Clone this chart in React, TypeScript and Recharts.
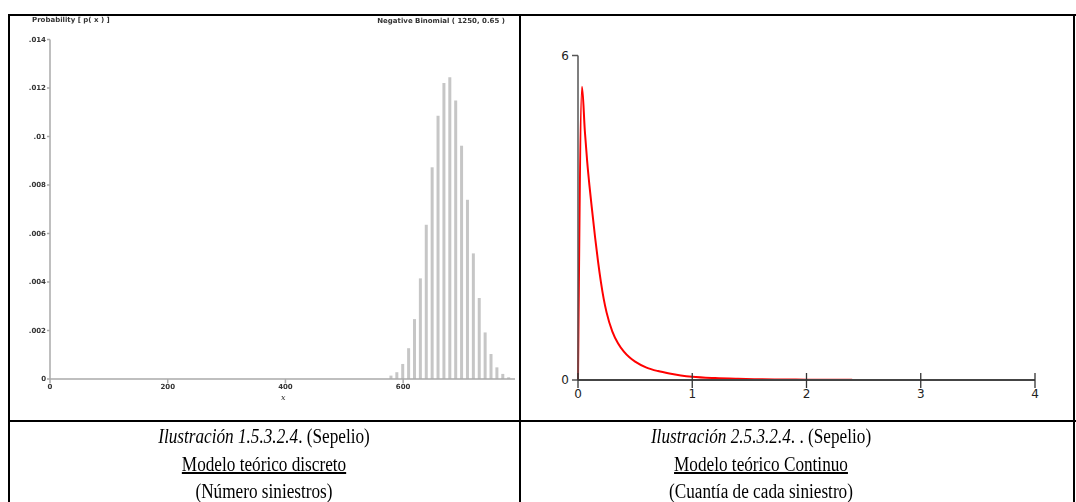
import React from 'react';
import { BarChart, Bar, XAxis, YAxis, LineChart, Line } from 'recharts';

// Discrete model: number of claims (negative binomial probabilities)
const claimCounts = [580, 590, 600, 610, 620, 630, 640, 650, 660, 670, 680, 690, 700, 710, 720, 730, 740, 750, 760, 770, 780];
const claimProbs = [0.00014, 0.00028, 0.00062, 0.00127, 0.00247, 0.00415, 0.00636, 0.00873, 0.01086, 0.01221, 0.01244, 0.01148, 0.00962, 0.00739, 0.00518, 0.00334, 0.00192, 0.00103, 0.00048, 0.00021, 0.00007];
const countTicks = [0, 200, 400, 600];
const probTicks = [0, 0.002, 0.004, 0.006, 0.008, 0.01, 0.012, 0.014];
const probTickLabels = ['0', '.002', '.004', '.006', '.008', '.01', '.012', '.014'];

// Continuous model: amount of each claim (density)
const amounts = [0, 0.035, 0.06, 0.08, 0.1, 0.12, 0.15, 0.175, 0.2, 0.225, 0.25, 0.3, 0.35, 0.4, 0.45, 0.5, 0.6, 0.7, 0.8, 0.9, 1.0, 1.2, 1.4, 1.6, 1.8, 2.0, 2.2, 2.4];
const densities = [0, 5.42, 4.6, 4.05, 3.6, 3.2, 2.63, 2.2, 1.82, 1.5, 1.25, 0.9, 0.68, 0.53, 0.42, 0.34, 0.23, 0.165, 0.12, 0.085, 0.06, 0.035, 0.022, 0.014, 0.009, 0.006, 0.004, 0.003];
const amountTicks = [0, 1, 2, 3, 4];
const densityTicks = [0, 6];

const claimData = claimCounts.map((x, i) => ({ x, p: claimProbs[i] }));
const amountData = amounts.map((x, i) => ({ x, y: densities[i] }));

const AmountTick = (props: any) => {
  const { x, y, payload } = props;
  return (
    <g>
      <line x1={x} x2={x} y1={y - 7} y2={y + 8} stroke="#333" strokeWidth={1.3} />
      <text x={x} y={y + 18} textAnchor="middle" fontSize={12} fill="#222" fontFamily="DejaVu Sans">
        {payload.value}
      </text>
    </g>
  );
};

const serif = '"Liberation Serif", "Times New Roman", serif';

const Caption = ({ cx, title, suffix, model, detail }: { cx: number; title: string; suffix: string; model: string; detail: string }) => (
  <div
    style={{
      position: 'absolute',
      left: cx - 200,
      top: 423,
      width: 400,
      textAlign: 'center',
      fontFamily: serif,
      fontSize: 20,
      color: '#000',
      lineHeight: '27.5px',
      transform: 'scaleX(0.86)',
      transformOrigin: '200px 0',
    }}
  >
    <div><i>{title}</i>{suffix}</div>
    <div><span style={{ textDecoration: 'underline' }}>{model}</span></div>
    <div>{detail}</div>
  </div>
);

const rule = (style: React.CSSProperties) => <div style={{ position: 'absolute', background: '#000', ...style }} />;

export default function App() {
  return (
    <div style={{ position: 'absolute', left: 0, top: 0, width: 1076, height: 502, overflow: 'hidden', background: '#fff' }}>
      {/* left cell: discrete model */}
      <div style={{ position: 'absolute', left: 0, top: 0, width: 520, height: 400, filter: 'blur(0.5px)' }}>
        <div style={{ position: 'absolute', left: 32, top: 16, fontSize: 7, fontFamily: 'DejaVu Sans', fontWeight: 'bold', color: '#333' }}>
          Probability [ p( x ) ]
        </div>
        <div style={{ position: 'absolute', right: 15, top: 17, fontSize: 7, fontFamily: 'DejaVu Sans', fontWeight: 'bold', color: '#333' }}>
          Negative Binomial ( 1250, 0.65 )
        </div>
        <div style={{ position: 'absolute', left: 281, top: 393, fontSize: 8, fontFamily: 'DejaVu Serif', fontStyle: 'italic', color: '#333' }}>
          x
        </div>
        <BarChart width={520} height={400} data={claimData} margin={{ top: 39.5, right: 5, bottom: 1, left: 20 }}>
          <XAxis
            type="number"
            dataKey="x"
            domain={[0, 790]}
            ticks={countTicks}
            height={20}
            tickSize={4}
            tickMargin={1}
            stroke="#aaa"
            strokeWidth={1.5}
            tick={{ fontSize: 7, fill: '#333', fontFamily: 'DejaVu Sans', fontWeight: 'bold' }}
          />
          <YAxis
            type="number"
            domain={[0, 0.014]}
            ticks={probTicks}
            width={30}
            tickSize={3}
            tickMargin={1}
            stroke="#aaa"
            strokeWidth={1.5}
            tickFormatter={(v: number) => probTickLabels[probTicks.indexOf(v)] ?? ''}
            tick={{ fontSize: 7, fill: '#333', fontFamily: 'DejaVu Sans', fontWeight: 'bold' }}
          />
          <Bar dataKey="p" fill="#c6c6c6" barSize={3} isAnimationActive={false} />
        </BarChart>
      </div>

      {/* right cell: continuous model */}
      <div style={{ position: 'absolute', left: 520, top: 0, width: 556, height: 400 }}>
        <LineChart width={556} height={400} data={amountData} margin={{ top: 55.5, right: 41, bottom: 0, left: 28 }}>
          <XAxis
            type="number"
            dataKey="x"
            domain={[0, 4]}
            ticks={amountTicks}
            height={20}
            tickSize={0}
            tickMargin={0}
            tickLine={false}
            stroke="#444"
            strokeWidth={1.8}
            tick={<AmountTick />}
          />
          <YAxis
            type="number"
            domain={[0, 6]}
            ticks={densityTicks}
            width={30}
            tickSize={6}
            tickMargin={3}
            stroke="#555"
            strokeWidth={1.5}
            tick={{ fontSize: 12, fill: '#222', fontFamily: 'DejaVu Sans' }}
          />
          <Line type="monotone" dataKey="y" stroke="#ff0000" strokeWidth={2} dot={false} isAnimationActive={false} />
        </LineChart>
      </div>

      {/* table rules */}
      {rule({ left: 8, top: 14, width: 1068, height: 2 })}
      {rule({ left: 8, top: 14, width: 2, height: 488 })}
      {rule({ left: 519, top: 14, width: 1.5, height: 488 })}
      {rule({ left: 1073, top: 14, width: 2, height: 488 })}
      {rule({ left: 8, top: 420, width: 1068, height: 2 })}

      <Caption cx={264} title="Ilustración 1.5.3.2.4" suffix=". (Sepelio)" model="Modelo teórico discreto" detail="(Número siniestros)" />
      <Caption cx={761} title="Ilustración 2.5.3.2.4" suffix=". . (Sepelio)" model="Modelo teórico Continuo" detail="(Cuantía de cada siniestro)" />
    </div>
  );
}
